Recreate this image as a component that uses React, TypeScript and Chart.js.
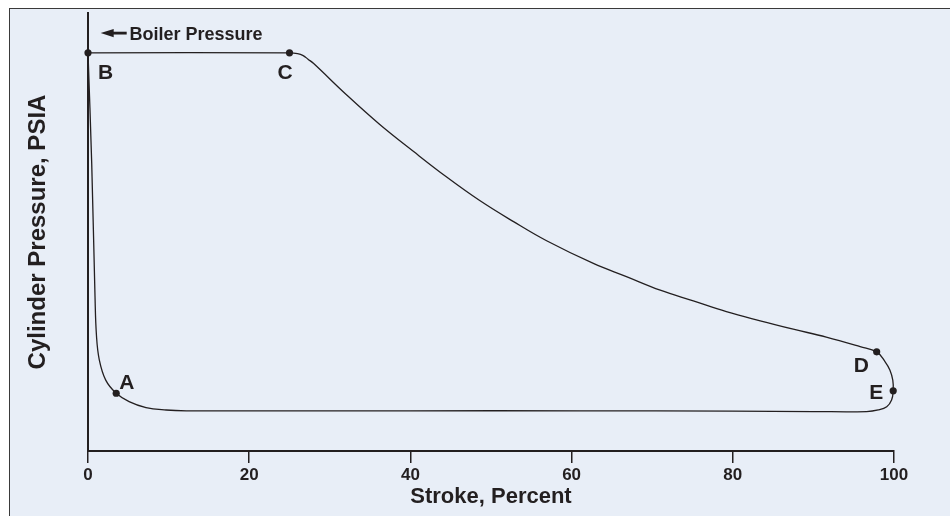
import React, { useEffect, useRef } from "react";
import { Chart, registerables } from "chart.js";

Chart.register(...registerables);

// ---- data ----
const strokeX = [
  0, 25, 26.0, 26.7, 27.3, 28.0, 32.1, 36.2, 40.4, 44.5, 48.6, 52.8, 56.9, 62.7, 66.8, 71.0,
  75.1, 79.2, 83.4, 87.5, 91.6, 95.8, 97.85, 98.9, 99.5, 99.85, 99.9, 99.7, 99.1, 98.05, 96.6,
  90, 80, 61, 40, 20, 12.2, 9.7, 7.2, 5.1, 3.5, 2.2, 1.4, 1.05, 0.87, 0.46, 0,
];
const pressureY = [
  100, 100, 99.8, 99.3, 98.4, 97.3, 89.4, 82.0, 75.2, 68.8, 62.9, 57.6, 52.8, 47.1, 43.8, 40.4,
  37.7, 35.0, 32.7, 30.6, 28.6, 26.2, 24.9, 22.4, 20.3, 17.8, 15.1, 12.8, 11.1, 10.3, 9.9,
  9.9, 10.0, 10.1, 10.1, 10.1, 10.1, 10.3, 10.9, 12.4, 14.5, 17.8, 22.9, 29, 38.8, 72.3, 100,
];
const markerNames = ["B", "C", "D", "E", "A"];
const markerX = [0, 25, 97.85, 99.9, 3.5];
const markerY = [100, 100, 24.9, 15.1, 14.5];
const xTicks = [0, 20, 40, 60, 80, 100];
const xTitle = "Stroke, Percent";
const yTitle = "Cylinder Pressure, PSIA";
const boilerLabel = "Boiler Pressure";

// ---- styles ----
const INK = "#231f20";
const BG = "#e8eef7";
const FAMILY = '"Liberation Sans", Arial, Helvetica, sans-serif';

const labelOffsets: Record<string, [number, number]> = {
  B: [10, 26],
  C: [-12, 26],
  D: [-23, 20],
  E: [-24, 8.6],
  A: [3, -4],
};

const annotate = {
  id: "annotate",
  afterDatasetsDraw(chart: any) {
    const { ctx, scales } = chart;
    const xs = scales.x;
    const ys = scales.y;
    ctx.save();
    ctx.fillStyle = INK;
    ctx.textAlign = "left";
    ctx.textBaseline = "alphabetic";
    ctx.font = `bold 21px ${FAMILY}`;
    markerNames.forEach((n, i) => {
      const px = xs.getPixelForValue(markerX[i]);
      const py = ys.getPixelForValue(markerY[i]);
      const [dx, dy] = labelOffsets[n];
      ctx.fillText(n, px + dx, py + dy);
    });
    // Boiler pressure arrow + label
    const bx = xs.getPixelForValue(markerX[0]);
    const by = ys.getPixelForValue(markerY[0]);
    const tipX = bx + 12.7;
    const tipY = by - 19.7;
    ctx.beginPath();
    ctx.moveTo(tipX, tipY);
    ctx.lineTo(tipX + 13, tipY - 4.2);
    ctx.lineTo(tipX + 13, tipY + 4.2);
    ctx.closePath();
    ctx.fill();
    ctx.fillRect(tipX + 11, tipY - 1.4, 15, 2.8);
    ctx.font = `bold 18px ${FAMILY}`;
    ctx.fillText(boilerLabel, bx + 41.5, by - 13.2);
    ctx.restore();
  },
};

export default function App() {
  const ref = useRef<HTMLCanvasElement>(null);
  useEffect(() => {
    if (!ref.current) return;
    const chart = new Chart(ref.current, {
      type: "scatter",
      data: {
        datasets: [
          {
            data: markerX.map((x, i) => ({ x, y: markerY[i] })),
            showLine: false,
            pointRadius: 3.6,
            pointBackgroundColor: INK,
            pointBorderWidth: 0,
            clip: false as any,
          },
          {
            data: strokeX.map((x, i) => ({ x, y: pressureY[i] })),
            showLine: true,
            pointRadius: 0,
            borderColor: INK,
            borderWidth: 1.3,
            tension: 0.4,
            fill: false,
            clip: false as any,
          },
        ],
      },
      options: {
        animation: false,
        responsive: false,
        maintainAspectRatio: false,
        events: [],
        layout: { padding: { top: 4, right: 56, left: 0, bottom: 0 } },
        plugins: { legend: { display: false }, tooltip: { enabled: false } },
        scales: {
          x: {
            type: "linear",
            min: 0,
            max: 100,
            afterBuildTicks: (s: any) => {
              s.ticks = xTicks.map((v) => ({ value: v }));
            },
            afterFit: (s: any) => {
              s.height = 65;
            },
            ticks: {
              color: INK,
              padding: 2,
              font: { family: FAMILY, size: 17, weight: "bold" },
              maxRotation: 0,
            },
            grid: {
              display: true,
              drawOnChartArea: false,
              drawTicks: true,
              tickLength: 12,
              color: INK,
              lineWidth: 1.5,
            },
            border: { display: true, color: INK, width: 2 },
            title: {
              display: true,
              text: xTitle,
              color: INK,
              font: { family: FAMILY, size: 22, weight: "bold" },
              padding: { top: 0, bottom: 6 },
            },
          },
          y: {
            type: "linear",
            min: 0,
            max: 110,
            afterFit: (s: any) => {
              s.width = 78;
            },
            ticks: { display: false },
            grid: { display: false, drawTicks: false },
            border: { display: true, color: INK, width: 2 },
            title: {
              display: true,
              text: yTitle,
              color: INK,
              font: { family: FAMILY, size: 24, weight: "bold" },
              padding: { top: 14, bottom: 0 },
            },
          },
        },
      } as any,
      plugins: [annotate],
    });
    return () => chart.destroy();
  }, []);

  return (
    <div
      style={{
        position: "fixed",
        left: 9,
        top: 8,
        right: 0,
        bottom: 0,
        background: BG,
        borderTop: "1px solid #3a3a3a",
        borderLeft: "1px solid #3a3a3a",
      }}
    >
      <canvas ref={ref} width={940} height={507} style={{ display: "block", width: 940, height: 507 }} />
    </div>
  );
}
